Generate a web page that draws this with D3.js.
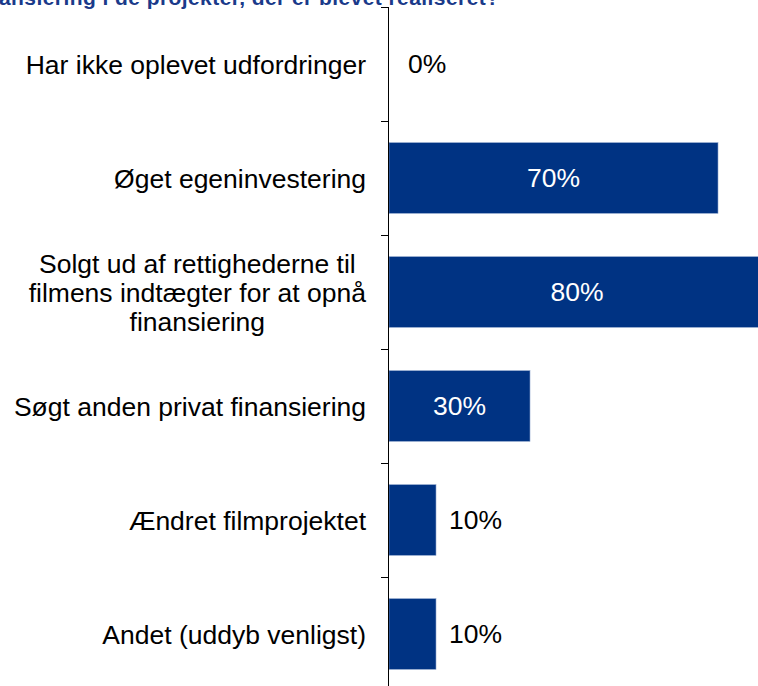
<!DOCTYPE html>
<html>
<head>
<meta charset="utf-8">
<script src="https://cdn.jsdelivr.net/npm/d3@7"></script>
<style>
  body { margin: 0; background: #fff; }
  svg { display: block; }
</style>
</head>
<body>
<div class="chart"></div>
<script>
var categories = [
    ["Har ikke oplevet udfordringer"],
    ["Øget egeninvestering"],
    ["Solgt ud af rettighederne til", "filmens indtægter for at opnå", "finansiering"],
    ["Søgt anden privat finansiering"],
    ["Ændret filmprojektet"],
    ["Andet (uddyb venligst)"]
];
var values = [0, 70, 80, 30, 10, 10];
var title = "ansiering i de projekter, der er blevet realiseret?";

var width = 758, height = 686;
var x0 = 389;
var font = "Arial, Liberation Sans, sans-serif";

var svg = d3.select(".chart").append("svg")
    .attr("width", width)
    .attr("height", height);

var y = d3.scaleBand()
    .domain(d3.range(values.length))
    .range([7, 691])
    .paddingInner(0.38)
    .paddingOuter(0.19);

var x = d3.scaleLinear().domain([0, 80]).range([x0, x0 + 376]);

// titel (beskåret i toppen)
svg.append("text")
    .attr("x", -1).attr("y", 5)
    .attr("font-family", font)
    .attr("font-size", 21).attr("font-weight", "bold")
    .attr("fill", "#1a3a8a")
    .attr("textLength", 500)
    .text(title);

// søjler
svg.selectAll("rect.bar").data(values).enter().append("rect")
    .attr("class", "bar")
    .attr("x", x(0))
    .attr("y", function(d, i) { return y(i); })
    .attr("width", function(d) { return x(d) - x(0); })
    .attr("height", y.bandwidth())
    .attr("fill", "#003383")
    .attr("stroke", "#8ea6cc").attr("stroke-width", 0.6);

// akse
var step = y.step();
var tickPos = d3.range(1, values.length).map(function(i) { return y(i) - step * 0.19; });
svg.append("line")
    .attr("x1", x0 - 0.5).attr("x2", x0 - 0.5)
    .attr("y1", 7).attr("y2", height)
    .attr("stroke", "#000").attr("stroke-width", 1);
svg.selectAll("line.tick").data(tickPos).enter().append("line")
    .attr("class", "tick")
    .attr("x1", x0 - 8).attr("x2", x0)
    .attr("y1", function(d) { return Math.round(d) + 0.5; })
    .attr("y2", function(d) { return Math.round(d) + 0.5; })
    .attr("stroke", "#000");
svg.append("line")
    .attr("x1", x0 - 8).attr("x2", x0)
    .attr("y1", 7.5).attr("y2", 7.5)
    .attr("stroke", "#000");

// kategorietiketter (blok højrestillet, linjer centreret)
var lh = 29;
var right = 366;
svg.selectAll("text.cat").data(categories).enter().append("text")
    .attr("class", "cat")
    .attr("text-anchor", "middle")
    .attr("font-family", font)
    .attr("font-size", 26.5)
    .attr("fill", "#000")
    .each(function(d, i) {
        var cy = y(i) + y.bandwidth() / 2 + 1;
        var start = cy - (d.length - 1) * lh / 2;
        var t = d3.select(this);
        var spans = d.map(function(line, j) {
            return t.append("tspan")
                .attr("y", start + j * lh)
                .attr("dy", "0.35em")
                .text(line);
        });
        var maxW = d3.max(spans, function(s) { return s.node().getComputedTextLength(); });
        spans.forEach(function(s) { s.attr("x", right - maxW / 2); });
    });

// værdietiketter
svg.selectAll("text.val").data(values).enter().append("text")
    .attr("class", "val")
    .attr("font-family", font)
    .attr("font-size", 26.5)
    .attr("dy", "0.35em")
    .attr("y", function(d, i) { return y(i) + y.bandwidth() / 2; })
    .attr("x", function(d) {
        return d >= 30 ? (x(0) + x(d)) / 2 : x(d) + (d === 0 ? 19 : 13);
    })
    .attr("text-anchor", function(d) { return d >= 30 ? "middle" : "start"; })
    .attr("fill", function(d) { return d >= 30 ? "#fff" : "#000"; })
    .text(function(d) { return d + "%"; });
</script>
</body>
</html>
